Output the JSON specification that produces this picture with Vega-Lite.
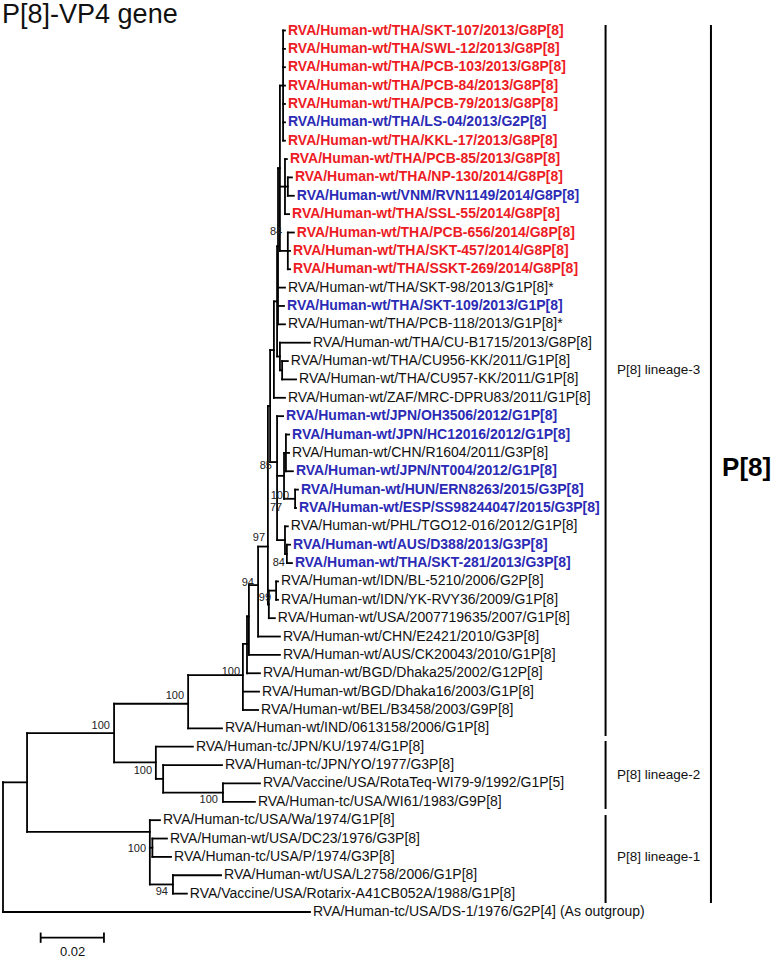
{
  "$schema": "https://vega.github.io/schema/vega-lite/v6.json",
  "width": 776,
  "height": 959,
  "autosize": {"type": "none"},
  "padding": 0,
  "background": "white",
  "config": {"view": {"stroke": null}, "font": "Liberation Sans"},
  "datasets": {
    "nodes": [
      {"node": "root", "x": 0, "y1": 41.94, "y2": 49, "px": 0, "in": 41.94},
      {"node": "A", "x": 0.0076, "y1": 39.26, "y2": 44.64, "px": 0, "in": 41.94},
      {"node": "B", "x": 0.0351, "y1": 37.66, "y2": 40.85, "px": 0.0076, "in": 39.26},
      {"node": "C", "x": 0.0585, "y1": 36.1, "y2": 39, "px": 0.0351, "in": 37.66},
      {"node": "D", "x": 0.0758, "y1": 34.4, "y2": 38, "px": 0.0585, "in": 36.1},
      {"node": "E", "x": 0.0771, "y1": 32.9, "y2": 36, "px": 0.0758, "in": 34.4},
      {"node": "F", "x": 0.0777, "y1": 31.2, "y2": 35, "px": 0.0771, "in": 32.9},
      {"node": "G", "x": 0.0806, "y1": 29.1, "y2": 34, "px": 0.0777, "in": 31.2},
      {"node": "H", "x": 0.0837, "y1": 21.45, "y2": 32.25, "px": 0.0806, "in": 29.1},
      {"node": "X", "x": 0.0844, "y1": 18.4, "y2": 24.5, "px": 0.0837, "in": 21.45},
      {"node": "Y", "x": 0.0840, "y1": 31.5, "y2": 33, "px": 0.0837, "in": 32.25},
      {"node": "IDN", "x": 0.0863, "y1": 31, "y2": 32, "px": 0.0840, "in": 31.5},
      {"node": "T8", "x": 0.0856, "y1": 15.75, "y2": 21, "px": 0.0844, "in": 18.4},
      {"node": "T7", "x": 0.0866, "y1": 12.75, "y2": 18.75, "px": 0.0856, "in": 15.75},
      {"node": "T6", "x": 0.0869, "y1": 8.5, "y2": 17, "px": 0.0866, "in": 12.75},
      {"node": "T5", "x": 0.0875, "y1": 4, "y2": 13, "px": 0.0869, "in": 8.5},
      {"node": "T1", "x": 0.0885, "y1": 1, "y2": 7, "px": 0.0875, "in": 4},
      {"node": "T2", "x": 0.0891, "y1": 8, "y2": 11, "px": 0.0875, "in": 9.5},
      {"node": "T3", "x": 0.0900, "y1": 9, "y2": 10, "px": 0.0891, "in": 9.5},
      {"node": "T4", "x": 0.0900, "y1": 12, "y2": 14, "px": 0.0875, "in": 13},
      {"node": "CU", "x": 0.0875, "y1": 18, "y2": 19.5, "px": 0.0866, "in": 18.75},
      {"node": "CUk", "x": 0.0882, "y1": 19, "y2": 20, "px": 0.0875, "in": 19.5},
      {"node": "J", "x": 0.0866, "y1": 22, "y2": 28.75, "px": 0.0844, "in": 24.5},
      {"node": "P", "x": 0.0888, "y1": 24, "y2": 26.5, "px": 0.0866, "in": 25.25},
      {"node": "N", "x": 0.0894, "y1": 23, "y2": 25, "px": 0.0888, "in": 24},
      {"node": "HE", "x": 0.0923, "y1": 26, "y2": 27, "px": 0.0888, "in": 26.5},
      {"node": "Q", "x": 0.0891, "y1": 28, "y2": 29.5, "px": 0.0866, "in": 28.75},
      {"node": "R", "x": 0.0897, "y1": 29, "y2": 30, "px": 0.0891, "in": 29.5},
      {"node": "L2", "x": 0.0483, "y1": 40, "y2": 41.75, "px": 0.0351, "in": 40.85},
      {"node": "L2a", "x": 0.0506, "y1": 41, "y2": 42.5, "px": 0.0483, "in": 41.75},
      {"node": "RW", "x": 0.0695, "y1": 42, "y2": 43, "px": 0.0506, "in": 42.5},
      {"node": "L1", "x": 0.0464, "y1": 44, "y2": 47.5, "px": 0.0076, "in": 44.64},
      {"node": "L1b", "x": 0.0472, "y1": 45, "y2": 46, "px": 0.0464, "in": 45.5},
      {"node": "LR", "x": 0.0537, "y1": 47, "y2": 48, "px": 0.0464, "in": 47.5}
    ],
    "leaves": [
      {"row": 1, "name": "RVA/Human-wt/THA/SKT-107/2013/G8P[8]", "tip": 0.0891, "par": 0.0885, "cat": "red"},
      {"row": 2, "name": "RVA/Human-wt/THA/SWL-12/2013/G8P[8]", "tip": 0.0891, "par": 0.0885, "cat": "red"},
      {"row": 3, "name": "RVA/Human-wt/THA/PCB-103/2013/G8P[8]", "tip": 0.0891, "par": 0.0885, "cat": "red"},
      {"row": 4, "name": "RVA/Human-wt/THA/PCB-84/2013/G8P[8]", "tip": 0.0891, "par": 0.0885, "cat": "red"},
      {"row": 5, "name": "RVA/Human-wt/THA/PCB-79/2013/G8P[8]", "tip": 0.0891, "par": 0.0885, "cat": "red"},
      {"row": 6, "name": "RVA/Human-wt/THA/LS-04/2013/G2P[8]", "tip": 0.0891, "par": 0.0885, "cat": "blue"},
      {"row": 7, "name": "RVA/Human-wt/THA/KKL-17/2013/G8P[8]", "tip": 0.0891, "par": 0.0885, "cat": "red"},
      {"row": 8, "name": "RVA/Human-wt/THA/PCB-85/2013/G8P[8]", "tip": 0.0897, "par": 0.0891, "cat": "red"},
      {"row": 9, "name": "RVA/Human-wt/THA/NP-130/2014/G8P[8]", "tip": 0.0913, "par": 0.0900, "cat": "red"},
      {"row": 10, "name": "RVA/Human-wt/VNM/RVN1149/2014/G8P[8]", "tip": 0.0919, "par": 0.0900, "cat": "blue"},
      {"row": 11, "name": "RVA/Human-wt/THA/SSL-55/2014/G8P[8]", "tip": 0.0904, "par": 0.0891, "cat": "red"},
      {"row": 12, "name": "RVA/Human-wt/THA/PCB-656/2014/G8P[8]", "tip": 0.0919, "par": 0.0900, "cat": "red"},
      {"row": 13, "name": "RVA/Human-wt/THA/SKT-457/2014/G8P[8]", "tip": 0.0907, "par": 0.0900, "cat": "red"},
      {"row": 14, "name": "RVA/Human-wt/THA/SSKT-269/2014/G8P[8]", "tip": 0.0907, "par": 0.0900, "cat": "red"},
      {"row": 15, "name": "RVA/Human-wt/THA/SKT-98/2013/G1P[8]*", "tip": 0.0891, "par": 0.0869, "cat": "black"},
      {"row": 16, "name": "RVA/Human-wt/THA/SKT-109/2013/G1P[8]", "tip": 0.0888, "par": 0.0869, "cat": "blue"},
      {"row": 17, "name": "RVA/Human-wt/THA/PCB-118/2013/G1P[8]*", "tip": 0.0891, "par": 0.0869, "cat": "black"},
      {"row": 18, "name": "RVA/Human-wt/THA/CU-B1715/2013/G8P[8]", "tip": 0.0970, "par": 0.0875, "cat": "black"},
      {"row": 19, "name": "RVA/Human-wt/THA/CU956-KK/2011/G1P[8]", "tip": 0.0900, "par": 0.0882, "cat": "black"},
      {"row": 20, "name": "RVA/Human-wt/THA/CU957-KK/2011/G1P[8]", "tip": 0.0926, "par": 0.0882, "cat": "black"},
      {"row": 21, "name": "RVA/Human-wt/ZAF/MRC-DPRU83/2011/G1P[8]", "tip": 0.0891, "par": 0.0856, "cat": "black"},
      {"row": 22, "name": "RVA/Human-wt/JPN/OH3506/2012/G1P[8]", "tip": 0.0885, "par": 0.0866, "cat": "blue"},
      {"row": 23, "name": "RVA/Human-wt/JPN/HC12016/2012/G1P[8]", "tip": 0.0904, "par": 0.0894, "cat": "blue"},
      {"row": 24, "name": "RVA/Human-wt/CHN/R1604/2011/G3P[8]", "tip": 0.0904, "par": 0.0894, "cat": "black"},
      {"row": 25, "name": "RVA/Human-wt/JPN/NT004/2012/G1P[8]", "tip": 0.0916, "par": 0.0894, "cat": "blue"},
      {"row": 26, "name": "RVA/Human-wt/HUN/ERN8263/2015/G3P[8]", "tip": 0.0932, "par": 0.0923, "cat": "blue"},
      {"row": 27, "name": "RVA/Human-wt/ESP/SS98244047/2015/G3P[8]", "tip": 0.0926, "par": 0.0923, "cat": "blue"},
      {"row": 28, "name": "RVA/Human-wt/PHL/TGO12-016/2012/G1P[8]", "tip": 0.0900, "par": 0.0891, "cat": "black"},
      {"row": 29, "name": "RVA/Human-wt/AUS/D388/2013/G3P[8]", "tip": 0.0907, "par": 0.0897, "cat": "blue"},
      {"row": 30, "name": "RVA/Human-wt/THA/SKT-281/2013/G3P[8]", "tip": 0.0913, "par": 0.0897, "cat": "blue"},
      {"row": 31, "name": "RVA/Human-wt/IDN/BL-5210/2006/G2P[8]", "tip": 0.0869, "par": 0.0863, "cat": "black"},
      {"row": 32, "name": "RVA/Human-wt/IDN/YK-RVY36/2009/G1P[8]", "tip": 0.0869, "par": 0.0863, "cat": "black"},
      {"row": 33, "name": "RVA/Human-wt/USA/2007719635/2007/G1P[8]", "tip": 0.0859, "par": 0.0840, "cat": "black"},
      {"row": 34, "name": "RVA/Human-wt/CHN/E2421/2010/G3P[8]", "tip": 0.0875, "par": 0.0806, "cat": "black"},
      {"row": 35, "name": "RVA/Human-wt/AUS/CK20043/2010/G1P[8]", "tip": 0.0875, "par": 0.0777, "cat": "black"},
      {"row": 36, "name": "RVA/Human-wt/BGD/Dhaka25/2002/G12P[8]", "tip": 0.0812, "par": 0.0771, "cat": "black"},
      {"row": 37, "name": "RVA/Human-wt/BGD/Dhaka16/2003/G1P[8]", "tip": 0.0809, "par": 0.0758, "cat": "black"},
      {"row": 38, "name": "RVA/Human-wt/BEL/B3458/2003/G9P[8]", "tip": 0.0806, "par": 0.0758, "cat": "black"},
      {"row": 39, "name": "RVA/Human-wt/IND/0613158/2006/G1P[8]", "tip": 0.0692, "par": 0.0585, "cat": "black"},
      {"row": 40, "name": "RVA/Human-tc/JPN/KU/1974/G1P[8]", "tip": 0.0600, "par": 0.0483, "cat": "black"},
      {"row": 41, "name": "RVA/Human-tc/JPN/YO/1977/G3P[8]", "tip": 0.0692, "par": 0.0506, "cat": "black"},
      {"row": 42, "name": "RVA/Vaccine/USA/RotaTeq-WI79-9/1992/G1P[5]", "tip": 0.0812, "par": 0.0695, "cat": "black"},
      {"row": 43, "name": "RVA/Human-tc/USA/WI61/1983/G9P[8]", "tip": 0.0796, "par": 0.0695, "cat": "black"},
      {"row": 44, "name": "RVA/Human-tc/USA/Wa/1974/G1P[8]", "tip": 0.0496, "par": 0.0464, "cat": "black"},
      {"row": 45, "name": "RVA/Human-wt/USA/DC23/1976/G3P[8]", "tip": 0.0518, "par": 0.0472, "cat": "black"},
      {"row": 46, "name": "RVA/Human-tc/USA/P/1974/G3P[8]", "tip": 0.0531, "par": 0.0472, "cat": "black"},
      {"row": 47, "name": "RVA/Human-wt/USA/L2758/2006/G1P[8]", "tip": 0.0689, "par": 0.0537, "cat": "black"},
      {"row": 48, "name": "RVA/Vaccine/USA/Rotarix-A41CB052A/1988/G1P[8]", "tip": 0.0581, "par": 0.0537, "cat": "black"},
      {"row": 49, "name": "RVA/Human-tc/USA/DS-1/1976/G2P[4] (As outgroup)", "tip": 0.0970, "par": 0, "cat": "black"}
    ],
    "boot": [
      {"x": 0.0882, "y": 11.97, "t": "84"},
      {"x": 0.0850, "y": 24.71, "t": "85"},
      {"x": 0.0904, "y": 26.35, "t": "100"},
      {"x": 0.0882, "y": 27.0, "t": "77"},
      {"x": 0.0828, "y": 28.63, "t": "97"},
      {"x": 0.0891, "y": 29.99, "t": "84"},
      {"x": 0.0793, "y": 31.08, "t": "94"},
      {"x": 0.0847, "y": 31.9, "t": "99"},
      {"x": 0.0749, "y": 35.93, "t": "100"},
      {"x": 0.0572, "y": 37.24, "t": "100"},
      {"x": 0.0338, "y": 38.87, "t": "100"},
      {"x": 0.0471, "y": 41.32, "t": "100"},
      {"x": 0.0679, "y": 42.9, "t": "100"},
      {"x": 0.0452, "y": 45.57, "t": "100"},
      {"x": 0.0521, "y": 47.91, "t": "94"}
    ],
    "brackets": [
      {"x": 0.1904, "y": 0.70, "y2": 39.42},
      {"x": 0.1904, "y": 39.69, "y2": 43.39},
      {"x": 0.1904, "y": 43.72, "y2": 48.51},
      {"x": 0.2237, "y": 0.70, "y2": 48.51}
    ],
    "lineages": [
      {"x": 0.1940, "y": 19.49, "t": "P[8] lineage-3"},
      {"x": 0.1940, "y": 41.54, "t": "P[8] lineage-2"},
      {"x": 0.1940, "y": 46.01, "t": "P[8] lineage-1"}
    ],
    "scalebar": [
      {"x": 0.0119, "x2": 0.0319, "y": 50.4, "y2": 50.4},
      {"x": 0.0119, "x2": 0.0119, "y": 50.12, "y2": 50.68},
      {"x": 0.0319, "x2": 0.0319, "y": 50.12, "y2": 50.68}
    ]
  },
  "layer": [
    {
      "data": {"name": "nodes"},
      "mark": {"type": "rule", "stroke": "black", "strokeWidth": 1.8, "strokeCap": "square"},
      "encoding": {
        "x": {"field": "x", "type": "quantitative", "scale": {"domain": [0, 0.2452], "range": [3, 779]}, "axis": null},
        "y": {"field": "y1", "type": "quantitative", "scale": {"domain": [1, 49], "range": [30.5, 912]}, "axis": null},
        "y2": {"field": "y2"}
      }
    },
    {
      "data": {"name": "nodes"},
      "mark": {"type": "rule", "stroke": "black", "strokeWidth": 1.8, "strokeCap": "square"},
      "encoding": {
        "x": {"field": "px", "type": "quantitative", "scale": {"domain": [0, 0.2452], "range": [3, 779]}, "axis": null},
        "x2": {"field": "x"},
        "y": {"field": "in", "type": "quantitative", "scale": {"domain": [1, 49], "range": [30.5, 912]}, "axis": null}
      }
    },
    {
      "data": {"name": "leaves"},
      "mark": {"type": "rule", "stroke": "black", "strokeWidth": 1.8, "strokeCap": "square"},
      "encoding": {
        "x": {"field": "par", "type": "quantitative", "scale": {"domain": [0, 0.2452], "range": [3, 779]}, "axis": null},
        "x2": {"field": "tip"},
        "y": {"field": "row", "type": "quantitative", "scale": {"domain": [1, 49], "range": [30.5, 912]}, "axis": null}
      }
    },
    {
      "data": {"name": "leaves"},
      "transform": [{"filter": "datum.cat !== 'black'"}],
      "mark": {"type": "text", "align": "left", "baseline": "middle", "dx": 3, "fontSize": 14, "fontWeight": "bold", "font": "Liberation Sans"},
      "encoding": {
        "x": {"field": "tip", "type": "quantitative", "scale": {"domain": [0, 0.2452], "range": [3, 779]}, "axis": null},
        "y": {"field": "row", "type": "quantitative", "scale": {"domain": [1, 49], "range": [30.5, 912]}, "axis": null},
        "text": {"field": "name"},
        "color": {"field": "cat", "type": "nominal", "scale": {"domain": ["red", "blue", "black"], "range": ["#ED1C24", "#2B2BB5", "#111111"]}, "legend": null}
      }
    },
    {
      "data": {"name": "leaves"},
      "transform": [{"filter": "datum.cat === 'black'"}],
      "mark": {"type": "text", "align": "left", "baseline": "middle", "dx": 3, "fontSize": 14, "font": "Liberation Sans", "color": "#111111"},
      "encoding": {
        "x": {"field": "tip", "type": "quantitative", "scale": {"domain": [0, 0.2452], "range": [3, 779]}, "axis": null},
        "y": {"field": "row", "type": "quantitative", "scale": {"domain": [1, 49], "range": [30.5, 912]}, "axis": null},
        "text": {"field": "name"}
      }
    },
    {
      "data": {"name": "boot"},
      "mark": {"type": "text", "align": "right", "baseline": "middle", "fontSize": 11, "font": "Liberation Sans", "color": "#222222"},
      "encoding": {
        "x": {"field": "x", "type": "quantitative", "scale": {"domain": [0, 0.2452], "range": [3, 779]}, "axis": null},
        "y": {"field": "y", "type": "quantitative", "scale": {"domain": [1, 49], "range": [30.5, 912]}, "axis": null},
        "text": {"field": "t"}
      }
    },
    {
      "data": {"name": "brackets"},
      "mark": {"type": "rule", "stroke": "black", "strokeWidth": 2},
      "encoding": {
        "x": {"field": "x", "type": "quantitative", "scale": {"domain": [0, 0.2452], "range": [3, 779]}, "axis": null},
        "y": {"field": "y", "type": "quantitative", "scale": {"domain": [1, 49], "range": [30.5, 912]}, "axis": null},
        "y2": {"field": "y2"}
      }
    },
    {
      "data": {"name": "lineages"},
      "mark": {"type": "text", "align": "left", "baseline": "middle", "fontSize": 13.5, "font": "Liberation Sans", "color": "#111111"},
      "encoding": {
        "x": {"field": "x", "type": "quantitative", "scale": {"domain": [0, 0.2452], "range": [3, 779]}, "axis": null},
        "y": {"field": "y", "type": "quantitative", "scale": {"domain": [1, 49], "range": [30.5, 912]}, "axis": null},
        "text": {"field": "t"}
      }
    },
    {
      "data": {"name": "scalebar"},
      "mark": {"type": "rule", "stroke": "black", "strokeWidth": 1.8},
      "encoding": {
        "x": {"field": "x", "type": "quantitative", "scale": {"domain": [0, 0.2452], "range": [3, 779]}, "axis": null},
        "x2": {"field": "x2"},
        "y": {"field": "y", "type": "quantitative", "scale": {"domain": [1, 49], "range": [30.5, 912]}, "axis": null},
        "y2": {"field": "y2"}
      }
    },
    {
      "data": {"values": [{"x": 0.0220, "y": 51.18, "t": "0.02"}]},
      "mark": {"type": "text", "align": "center", "baseline": "middle", "fontSize": 13, "font": "Liberation Sans", "color": "#111111"},
      "encoding": {
        "x": {"field": "x", "type": "quantitative", "scale": {"domain": [0, 0.2452], "range": [3, 779]}, "axis": null},
        "y": {"field": "y", "type": "quantitative", "scale": {"domain": [1, 49], "range": [30.5, 912]}, "axis": null},
        "text": {"field": "t"}
      }
    },
    {
      "data": {"values": [{"x": 0.2272, "y": 24.82, "t": "P[8]"}]},
      "mark": {"type": "text", "align": "left", "baseline": "middle", "fontSize": 26, "fontWeight": "bold", "font": "Liberation Sans", "color": "#000000"},
      "encoding": {
        "x": {"field": "x", "type": "quantitative", "scale": {"domain": [0, 0.2452], "range": [3, 779]}, "axis": null},
        "y": {"field": "y", "type": "quantitative", "scale": {"domain": [1, 49], "range": [30.5, 912]}, "axis": null},
        "text": {"field": "t"}
      }
    },
    {
      "data": {"values": [{"x": -0.0003, "y": 0.58, "t": "P[8]-VP4 gene"}]},
      "mark": {"type": "text", "align": "left", "baseline": "alphabetic", "fontSize": 27, "font": "Liberation Sans", "color": "#111111"},
      "encoding": {
        "x": {"field": "x", "type": "quantitative", "scale": {"domain": [0, 0.2452], "range": [3, 779]}, "axis": null},
        "y": {"field": "y", "type": "quantitative", "scale": {"domain": [1, 49], "range": [30.5, 912]}, "axis": null},
        "text": {"field": "t"}
      }
    }
  ]
}
